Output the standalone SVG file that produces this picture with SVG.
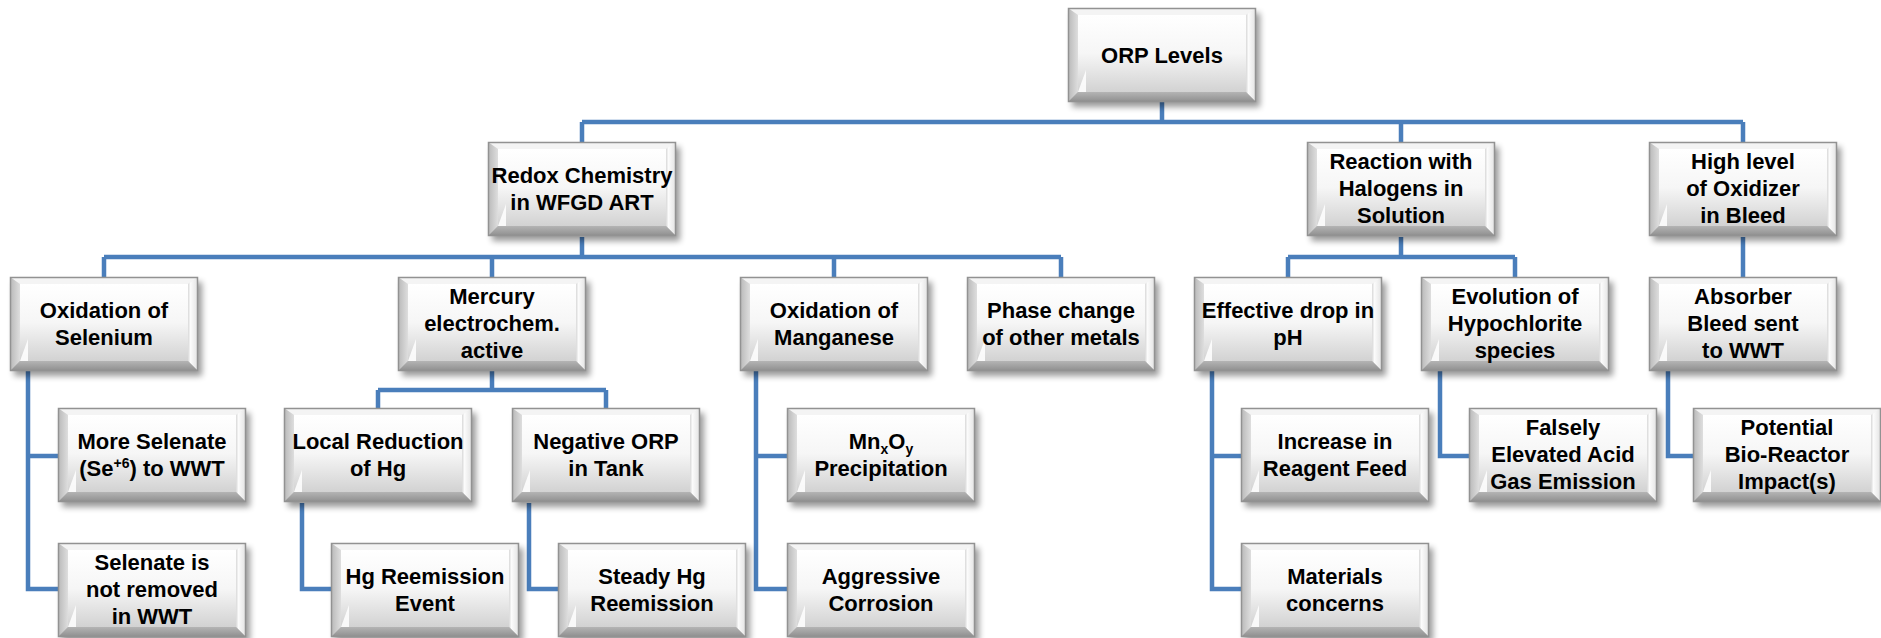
<svg xmlns="http://www.w3.org/2000/svg" xmlns:xlink="http://www.w3.org/1999/xlink" width="1881" height="638" viewBox="0 0 1881 638">
<style>
.t{font-family:"Liberation Sans",Arial,sans-serif;font-weight:bold;font-size:22px;fill:#000;text-anchor:middle}
.c{fill:none;stroke:#4a7ebb;stroke-width:4.5;stroke-linejoin:miter;stroke-linecap:butt}
</style>
<defs>
<filter id="sh" x="-20%" y="-20%" width="140%" height="150%"><feGaussianBlur stdDeviation="3"/></filter>
<linearGradient id="gBase" x1="0" y1="0" x2="0" y2="1"><stop offset="0" stop-color="#f0f0f0"/><stop offset="1" stop-color="#c2c2c2"/></linearGradient>
<linearGradient id="gLeft" x1="0" y1="0" x2="1" y2="0"><stop offset="0" stop-color="#b8b8b8"/><stop offset="1" stop-color="#dedede"/></linearGradient>
<linearGradient id="gRight" x1="0" y1="0" x2="1" y2="0"><stop offset="0" stop-color="#d8d8d8"/><stop offset="0.25" stop-color="#fbfbfb"/><stop offset="1" stop-color="#e2e2e2"/></linearGradient>
<linearGradient id="gBottom" x1="0" y1="0" x2="0" y2="1"><stop offset="0" stop-color="#b4b4b4"/><stop offset="1" stop-color="#8e8e8e"/></linearGradient>
<linearGradient id="gFace" x1="0" y1="0" x2="0" y2="1"><stop offset="0" stop-color="#ffffff"/><stop offset="0.5" stop-color="#f6f6f6"/><stop offset="1" stop-color="#d2d2d2"/></linearGradient>
<g id="box">
<rect x="4" y="5" width="188" height="94" fill="#000" opacity="0.4" filter="url(#sh)"/>
<rect x="0" y="0" width="188" height="94" fill="url(#gBase)"/>
<polygon points="0,0 188,0 178,7 10,7" fill="#f4f4f4"/>
<polygon points="0,0 10,7 10,84 0,94" fill="url(#gLeft)"/>
<polygon points="188,0 188,94 178,84 178,7" fill="url(#gRight)"/>
<polygon points="0,94 188,94 178,84 10,84" fill="url(#gBottom)"/>
<rect x="10" y="7" width="168" height="77" fill="url(#gFace)"/>
<polygon points="10,84 18,62 18,84" fill="#ffffff" opacity="0.85"/>
<rect x="0.5" y="0.5" width="187" height="93" fill="none" stroke="#929292" stroke-width="1.5"/>
</g>
</defs>
<rect width="1881" height="638" fill="#ffffff"/>

<g id="connectors">
<path class="c" d="M1162,102 V122 M582,122 H1743 M582,122 V142 M1401,122 V142 M1743,122 V142"/>
<path class="c" d="M582,237 V257 M104,257 H1061 M104,257 V277 M492,257 V277 M834,257 V277 M1061,257 V277"/>
<path class="c" d="M1401,237 V257 M1288,257 H1515 M1288,257 V277 M1515,257 V277"/>
<path class="c" d="M1743,237 V277"/>
<path class="c" d="M28,370 V589 H58 M28,456 H58"/>
<path class="c" d="M492,370 V390 M378,390 H606 M378,390 V408 M606,390 V408"/>
<path class="c" d="M756,370 V589 H787 M756,456 H787"/>
<path class="c" d="M1212,370 V589 H1241 M1212,456 H1241"/>
<path class="c" d="M1440,370 V456 H1469"/>
<path class="c" d="M1668,370 V456 H1693"/>
<path class="c" d="M302,503 V589 H331"/>
<path class="c" d="M529,503 V589 H558"/>
</g>

<g id="n-orp"><use xlink:href="#box" href="#box" x="1068" y="8"/><text class="t" x="1162" y="63">ORP Levels</text></g>

<g id="n-redox"><use xlink:href="#box" href="#box" x="488" y="142"/><text class="t"><tspan x="582" y="183">Redox Chemistry</tspan><tspan x="582" y="210">in WFGD ART</tspan></text></g>
<g id="n-halogens"><use xlink:href="#box" href="#box" x="1307" y="142"/><text class="t"><tspan x="1401" y="169">Reaction with</tspan><tspan x="1401" y="196">Halogens in</tspan><tspan x="1401" y="223">Solution</tspan></text></g>
<g id="n-highlevel"><use xlink:href="#box" href="#box" x="1649" y="142"/><text class="t"><tspan x="1743" y="169">High level</tspan><tspan x="1743" y="196">of Oxidizer</tspan><tspan x="1743" y="223">in Bleed</tspan></text></g>

<g id="n-selenium"><use xlink:href="#box" href="#box" x="10" y="277"/><text class="t"><tspan x="104" y="318">Oxidation of</tspan><tspan x="104" y="345">Selenium</tspan></text></g>
<g id="n-mercury"><use xlink:href="#box" href="#box" x="398" y="277"/><text class="t"><tspan x="492" y="304">Mercury</tspan><tspan x="492" y="331">electrochem.</tspan><tspan x="492" y="358">active</tspan></text></g>
<g id="n-manganese"><use xlink:href="#box" href="#box" x="740" y="277"/><text class="t"><tspan x="834" y="318">Oxidation of</tspan><tspan x="834" y="345">Manganese</tspan></text></g>
<g id="n-phase"><use xlink:href="#box" href="#box" x="967" y="277"/><text class="t"><tspan x="1061" y="318">Phase change</tspan><tspan x="1061" y="345">of other metals</tspan></text></g>
<g id="n-ph"><use xlink:href="#box" href="#box" x="1194" y="277"/><text class="t"><tspan x="1288" y="318">Effective drop in</tspan><tspan x="1288" y="345">pH</tspan></text></g>
<g id="n-hypochlorite"><use xlink:href="#box" href="#box" x="1421" y="277"/><text class="t"><tspan x="1515" y="304">Evolution of</tspan><tspan x="1515" y="331">Hypochlorite</tspan><tspan x="1515" y="358">species</tspan></text></g>
<g id="n-absorber"><use xlink:href="#box" href="#box" x="1649" y="277"/><text class="t"><tspan x="1743" y="304">Absorber</tspan><tspan x="1743" y="331">Bleed sent</tspan><tspan x="1743" y="358">to WWT</tspan></text></g>

<g id="n-selenate"><use xlink:href="#box" href="#box" x="58" y="408"/><text class="t"><tspan x="152" y="449">More Selenate</tspan><tspan x="152" y="476">(Se<tspan font-size="14" dy="-8">+6</tspan><tspan dy="8">) to WWT</tspan></tspan></text></g>
<g id="n-localhg"><use xlink:href="#box" href="#box" x="284" y="408"/><text class="t"><tspan x="378" y="449">Local Reduction</tspan><tspan x="378" y="476">of Hg</tspan></text></g>
<g id="n-negorp"><use xlink:href="#box" href="#box" x="512" y="408"/><text class="t"><tspan x="606" y="449">Negative ORP</tspan><tspan x="606" y="476">in Tank</tspan></text></g>
<g id="n-mnxoy"><use xlink:href="#box" href="#box" x="787" y="408"/><text class="t"><tspan x="881" y="449">Mn<tspan font-size="14" dy="5">x</tspan><tspan dy="-5">O</tspan><tspan font-size="14" dy="5">y</tspan></tspan><tspan x="881" y="476">Precipitation</tspan></text></g>
<g id="n-reagent"><use xlink:href="#box" href="#box" x="1241" y="408"/><text class="t"><tspan x="1335" y="449">Increase in</tspan><tspan x="1335" y="476">Reagent Feed</tspan></text></g>
<g id="n-falsely"><use xlink:href="#box" href="#box" x="1469" y="408"/><text class="t"><tspan x="1563" y="435">Falsely</tspan><tspan x="1563" y="462">Elevated Acid</tspan><tspan x="1563" y="489">Gas Emission</tspan></text></g>
<g id="n-bioreactor"><use xlink:href="#box" href="#box" x="1693" y="408"/><text class="t"><tspan x="1787" y="435">Potential</tspan><tspan x="1787" y="462">Bio-Reactor</tspan><tspan x="1787" y="489">Impact(s)</tspan></text></g>

<g id="n-notremoved"><use xlink:href="#box" href="#box" x="58" y="543"/><text class="t"><tspan x="152" y="570">Selenate is</tspan><tspan x="152" y="597">not removed</tspan><tspan x="152" y="624">in WWT</tspan></text></g>
<g id="n-hgevent"><use xlink:href="#box" href="#box" x="331" y="543"/><text class="t"><tspan x="425" y="584">Hg Reemission</tspan><tspan x="425" y="611">Event</tspan></text></g>
<g id="n-steadyhg"><use xlink:href="#box" href="#box" x="558" y="543"/><text class="t"><tspan x="652" y="584">Steady Hg</tspan><tspan x="652" y="611">Reemission</tspan></text></g>
<g id="n-corrosion"><use xlink:href="#box" href="#box" x="787" y="543"/><text class="t"><tspan x="881" y="584">Aggressive</tspan><tspan x="881" y="611">Corrosion</tspan></text></g>
<g id="n-materials"><use xlink:href="#box" href="#box" x="1241" y="543"/><text class="t"><tspan x="1335" y="584">Materials</tspan><tspan x="1335" y="611">concerns</tspan></text></g>
</svg>
